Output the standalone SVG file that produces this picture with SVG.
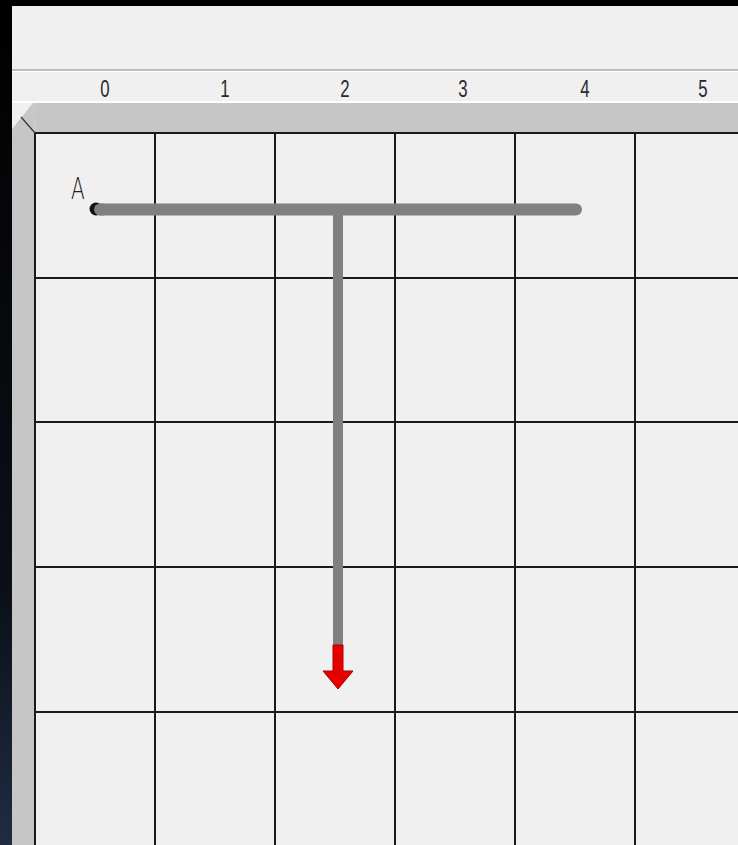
<svg xmlns="http://www.w3.org/2000/svg" width="738" height="845" viewBox="0 0 738 845">
<style>
.grid{stroke:#1a1a1a;stroke-width:2;fill:none}
.num{font-family:"Liberation Sans",Arial,sans-serif;font-size:24px;fill:#2a2a2a;text-anchor:middle}
.lbl{font-family:"DejaVu Sans",sans-serif;font-weight:200;font-size:31px;fill:#222}
</style>
<defs>
<linearGradient id="side" x1="0" y1="0" x2="0" y2="1">
<stop offset="0" stop-color="#000"/>
<stop offset="0.7" stop-color="#0b1018"/>
<stop offset="1" stop-color="#1f2c42"/>
</linearGradient>
</defs>
<rect x="0" y="0" width="738" height="845" fill="#f0f0f0"/>
<rect x="0" y="0" width="738" height="6" fill="#000"/>
<rect x="0" y="0" width="12" height="845" fill="url(#side)"/>
<rect x="12" y="69" width="726" height="2" fill="#bdbdbd"/>
<rect x="12" y="71" width="726" height="1" fill="#ffffff"/>
<rect x="12" y="101" width="726" height="2" fill="#ffffff"/>
<g id="frame">
<polygon points="33,103 738,103 738,133 35,133" fill="#c6c6c6"/>
<polygon points="12,129 33,103 35,133 35,845 12,845" fill="#c6c6c6"/>
<line x1="21" y1="117" x2="35" y2="133" stroke="#333" stroke-width="1.2"/>
</g>
<g id="ruler">
<text class="num" transform="translate(105,97) scale(0.7,1)">0</text>
<text class="num" transform="translate(225,97) scale(0.7,1)">1</text>
<text class="num" transform="translate(345,97) scale(0.7,1)">2</text>
<text class="num" transform="translate(463,97) scale(0.7,1)">3</text>
<text class="num" transform="translate(585,97) scale(0.7,1)">4</text>
<text class="num" transform="translate(703,97) scale(0.7,1)">5</text>
</g>
<g id="grid" class="grid">
<line x1="35" y1="133" x2="35" y2="845"/>
<line x1="155" y1="133" x2="155" y2="845"/>
<line x1="275" y1="133" x2="275" y2="845"/>
<line x1="395" y1="133" x2="395" y2="845"/>
<line x1="515" y1="133" x2="515" y2="845"/>
<line x1="635" y1="133" x2="635" y2="845"/>
<line x1="35" y1="133" x2="738" y2="133"/>
<line x1="35" y1="278" x2="738" y2="278"/>
<line x1="35" y1="422" x2="738" y2="422"/>
<line x1="35" y1="567" x2="738" y2="567"/>
<line x1="35" y1="712" x2="738" y2="712"/>
</g>
<g id="nodeA">
<circle cx="96" cy="209" r="6.5" fill="#111"/>
<text class="lbl" transform="translate(71,199) scale(0.65,1)">A</text>
</g>
<g id="connectors">
<line x1="100" y1="209.5" x2="576" y2="209.5" stroke="#808080" stroke-width="12" stroke-linecap="round"/>
<line x1="99" y1="209.5" x2="104" y2="209.5" stroke="#808080" stroke-width="12"/>
<line x1="338" y1="209" x2="338" y2="646" stroke="#808080" stroke-width="10"/>
<polygon points="333,645 343,645 343,671 353,671 338,689 323,671 333,671" fill="#e60000" stroke="#b00000" stroke-width="1"/>
</g>
</svg>
